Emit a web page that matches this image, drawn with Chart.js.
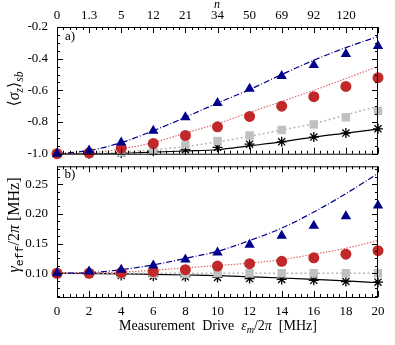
<!DOCTYPE html>
<html><head><meta charset="utf-8">
<script src="https://cdn.jsdelivr.net/npm/chart.js@4.4.0/dist/chart.umd.min.js"></script>
<style>
body{margin:0;background:#fff;}
#wrap{position:relative;width:395px;height:345px;}
canvas{position:absolute;left:0;}
</style></head><body>
<div id="wrap">
<canvas id="top" width="395" height="160" style="top:0"></canvas>
<canvas id="bot" width="395" height="185" style="top:160px"></canvas>
</div>
<script>
// drive eps_m/2pi [MHz]
var drive = [0, 2, 4, 6, 8, 10, 12, 14, 16, 18, 20];
var nLabels = ['0', '1.3', '5', '12', '21', '34', '50', '69', '92', '120'];
var sigmaTicks = [-1.0, -0.8, -0.6, -0.4, -0.2];
var gammaTicks = [0.10, 0.15, 0.20, 0.25];

// panel a) <sigma_z>_sb
var sigBlue = [-1.0, -0.98, -0.93, -0.855, -0.77, -0.68, -0.59, -0.51, -0.44, -0.37, -0.32];
var sigRed = [-1.0, -0.995, -0.965, -0.935, -0.885, -0.83, -0.765, -0.70, -0.64, -0.575, -0.52];
var sigGrey = [-1.0, -1.0, -0.99, -0.975, -0.945, -0.92, -0.885, -0.85, -0.815, -0.77, -0.73];
var sigBlack = [-1.0, -1.0, -0.995, -0.985, -0.975, -0.96, -0.94, -0.925, -0.895, -0.87, -0.843];
var sigBlueFit = [-1.0, -0.98, -0.93, -0.855, -0.77, -0.68, -0.595, -0.50, -0.41, -0.33, -0.26];
var sigRedFit = [-1.0, -0.995, -0.97, -0.93, -0.87, -0.81, -0.74, -0.67, -0.60, -0.525, -0.45];
var sigGreyFit = [-1.0, -1.0, -0.99, -0.975, -0.955, -0.925, -0.89, -0.85, -0.81, -0.755, -0.70];
var sigBlackFit = [-1.0, -1.0, -0.997, -0.99, -0.983, -0.975, -0.95, -0.925, -0.895, -0.87, -0.845];

// panel b) gamma_eff/2pi [MHz]
var gamBlue = [0.10, 0.103, 0.106, 0.113, 0.123, 0.135, 0.148, 0.163, 0.18, 0.196, 0.214];
var gamRed = [0.10, 0.10, 0.101, 0.103, 0.106, 0.112, 0.116, 0.12, 0.126, 0.132, 0.138];
var gamGrey = [0.10, 0.10, 0.099, 0.099, 0.099, 0.10, 0.10, 0.10, 0.10, 0.10, 0.10];
var gamBlack = [0.10, 0.10, 0.096, 0.095, 0.094, 0.093, 0.091, 0.0895, 0.088, 0.086, 0.085];
var gamBlueFit = [0.10, 0.101, 0.106, 0.114, 0.125, 0.137, 0.155, 0.176, 0.203, 0.234, 0.268];
var gamRedFit = [0.10, 0.1005, 0.102, 0.105, 0.109, 0.113, 0.117, 0.123, 0.132, 0.142, 0.155];
var gamGreyFit = [0.10, 0.10, 0.10, 0.10, 0.10, 0.10, 0.10, 0.10, 0.10, 0.10, 0.10];
var gamBlackFit = [0.10, 0.0995, 0.099, 0.098, 0.097, 0.096, 0.094, 0.092, 0.0895, 0.087, 0.084];

var SERIF = '"Liberation Serif", "DejaVu Serif", serif';
var NAVY = '#00008b', RED = '#c0282a', GREY = '#c0c0c0';

function pts(ys) { return drive.map(function (x, i) { return { x: x, y: ys[i] }; }); }

function marks(ys, style, color, r) {
  return { data: pts(ys), showLine: false, pointStyle: style, pointRadius: r,
    pointBackgroundColor: color, pointBorderColor: color, pointBorderWidth: style == 'star' ? 1.3 : 0,
    clip: false };
}
function fit(ys, color, dash, w) {
  return { data: pts(ys), borderColor: color, borderWidth: w, borderDash: dash,
    pointRadius: 0, cubicInterpolationMode: 'monotone', fill: false };
}

function richText(ctx, parts, x, y, size, rotate) {
  ctx.save();
  ctx.translate(x, y);
  if (rotate) ctx.rotate(-Math.PI / 2);
  ctx.fillStyle = '#000';
  ctx.textBaseline = 'middle';
  ctx.textAlign = 'left';
  function fnt(p) { return (p.it ? 'italic ' : '') + (p.sub ? size * 0.72 : size) + 'px ' + (p.mono ? '"Liberation Mono", monospace' : SERIF); }
  var w = 0;
  parts.forEach(function (p) { ctx.font = fnt(p); w += ctx.measureText(p.t).width; });
  var cx = -w / 2;
  parts.forEach(function (p) {
    ctx.font = fnt(p);
    ctx.fillText(p.t, cx, p.sub ? size * 0.32 : 0);
    cx += ctx.measureText(p.t).width;
  });
  ctx.restore();
}

// frame + inward ticks + texts
var framePlugin = {
  id: 'frame',
  afterDatasetsDraw: function (chart, args, o) {
    var ctx = chart.ctx, a = chart.chartArea, xs = chart.scales.x, ys = chart.scales.y;
    ctx.save();
    ctx.strokeStyle = '#000';
    ctx.lineWidth = 1;
    ctx.strokeRect(a.left + 0.5, a.top + 0.5, a.right - a.left - 1, a.bottom - a.top);
    ctx.beginPath();
    var v, p, L;
    for (v = xs.min; v <= xs.max + 1e-9; v += o.xMinor) {
      p = Math.round(xs.getPixelForValue(v)) + 0.5;
      L = Math.abs(v / 2 - Math.round(v / 2)) < 1e-6 ? 6 : 3;
      ctx.moveTo(p, a.bottom); ctx.lineTo(p, a.bottom - L);
      ctx.moveTo(p, a.top); ctx.lineTo(p, a.top + L);
    }
    for (v = o.yBase; v <= ys.max + 1e-9; v += o.yMinor) tickY(v);
    for (v = o.yBase - o.yMinor; v >= ys.min - 1e-9; v -= o.yMinor) tickY(v);
    function tickY(v) {
      var q = Math.round(ys.getPixelForValue(v)) + 0.5;
      var k = (v - o.yBase) / o.yMajor;
      var len = Math.abs(k - Math.round(k)) < 1e-6 ? 6 : 3;
      ctx.moveTo(a.left, q); ctx.lineTo(a.left + len, q);
      ctx.moveTo(a.right, q); ctx.lineTo(a.right - len, q);
    }
    ctx.stroke();
    ctx.restore();
    o.texts.forEach(function (t) { richText(ctx, t.parts, t.x, t.y, t.size, t.rot); });
  }
};

function yAxis(ticks, min, max, dec) {
  return { min: min, max: max,
    afterFit: function (s) { s.width = 57; s.paddingTop = 0; s.paddingBottom = 0; },
    afterBuildTicks: function (s) { s.ticks = ticks.map(function (v) { return { value: v }; }); },
    grid: { display: false, drawTicks: false }, border: { display: false },
    ticks: { padding: 9, color: '#000', font: { family: SERIF, size: 13 },
      callback: function (v) { return Number(v).toFixed(dec); } } };
}

new Chart(document.getElementById('top'), {
  type: 'line',
  data: { datasets: [
    marks(sigBlue, 'triangle', NAVY, 6),
    marks(sigRed, 'circle', RED, 5.5),
    marks(sigGrey, 'rect', GREY, 6),
    marks(sigBlack, 'star', '#000', 5),
    fit(sigBlueFit, NAVY, [6, 2, 1, 2], 1.2),
    fit(sigRedFit, '#e06a6a', [1.5, 1.5], 1.2),
    fit(sigGreyFit, '#b8b8b8', [2, 2.5], 1.5),
    fit(sigBlackFit, '#000', [], 1.2)
  ] },
  options: {
    responsive: false, animation: false, events: [],
    layout: { padding: { left: 0, right: 17, top: 0, bottom: 6 } },
    scales: {
      x: { type: 'linear', min: 0, max: 20, display: false },
      x2: { type: 'linear', position: 'top', min: 0, max: 20,
        afterFit: function (s) { s.height = 27; s.paddingLeft = 0; s.paddingRight = 0; },
        afterBuildTicks: function (s) { s.ticks = nLabels.map(function (l, i) { return { value: drive[i] }; }); },
        grid: { display: false, drawTicks: false }, border: { display: false },
        ticks: { padding: 4, maxRotation: 0, autoSkip: false, color: '#000', font: { family: SERIF, size: 13 },
          callback: function (v, i) { return nLabels[i]; } } },
      y: yAxis(sigmaTicks, -1.0, -0.2, 1)
    },
    plugins: { legend: { display: false }, tooltip: { enabled: false },
      frame: { xMinor: 0.4, yMinor: 0.05, yMajor: 0.2, yBase: -1.0,
        texts: [
          { parts: [{ t: 'a)' }], x: 70, y: 37, size: 13 },
          { parts: [{ t: 'n', it: true }], x: 217, y: 5, size: 12 },
          { parts: [{ t: '\u27E8' }, { t: '\u03C3', it: true }, { t: 'z', it: true, sub: true }, { t: '\u27E9' }, { t: 'sb', it: true, sub: true }], x: 15, y: 89, size: 16, rot: true }
        ] } }
  },
  plugins: [framePlugin]
});

new Chart(document.getElementById('bot'), {
  type: 'line',
  data: { datasets: [
    marks(gamBlue, 'triangle', NAVY, 6),
    marks(gamRed, 'circle', RED, 5.5),
    marks(gamGrey, 'rect', GREY, 6),
    marks(gamBlack, 'star', '#000', 5),
    fit(gamBlueFit, NAVY, [6, 2, 1, 2], 1.2),
    fit(gamRedFit, '#e06a6a', [1.5, 1.5], 1.2),
    fit(gamGreyFit, '#b8b8b8', [2, 2.5], 1.5),
    fit(gamBlackFit, '#000', [], 1.2)
  ] },
  options: {
    responsive: false, animation: false, events: [],
    layout: { padding: { left: 0, right: 17, top: 4, bottom: 0 } },
    scales: {
      x: { type: 'linear', position: 'bottom', min: 0, max: 20,
        afterFit: function (s) { s.height = 48; s.paddingLeft = 0; s.paddingRight = 0; },
        afterBuildTicks: function (s) { s.ticks = drive.map(function (v) { return { value: v }; }); },
        grid: { display: false, drawTicks: false }, border: { display: false },
        ticks: { padding: 7, maxRotation: 0, autoSkip: false, color: '#000', font: { family: SERIF, size: 13 } } },
      y: yAxis(gammaTicks, 0.06, 0.28, 2)
    },
    plugins: { legend: { display: false }, tooltip: { enabled: false },
      frame: { xMinor: 0.4, yMinor: 0.0125, yMajor: 0.05, yBase: 0.10,
        texts: [
          { parts: [{ t: 'b)' }], x: 70, y: 15, size: 13 },
          { parts: [{ t: 'Measurement  Drive  ' }, { t: '\u03B5', it: true }, { t: 'm', it: true, sub: true }, { t: '/2' }, { t: '\u03C0', it: true }, { t: '  [MHz]' }], x: 218, y: 166, size: 14 },
          { parts: [{ t: '\u03B3', it: true }, { t: 'eff', mono: true, sub: true }, { t: '/2' }, { t: '\u03C0', it: true }, { t: ' [MHz]' }], x: 15, y: 65, size: 16, rot: true }
        ] } }
  },
  plugins: [framePlugin]
});
</script>
</body></html>
